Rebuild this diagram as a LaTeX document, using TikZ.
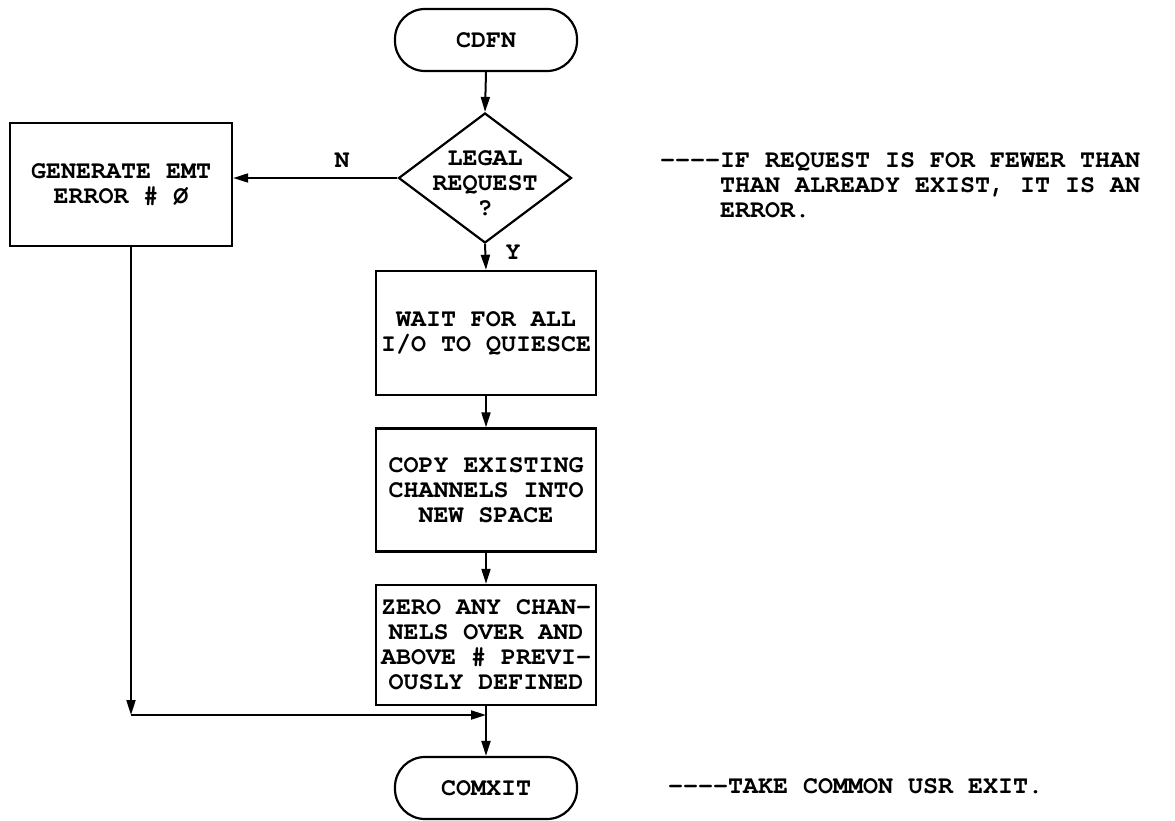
\documentclass[tikz,border=0pt]{standalone}
\usepackage{fontspec}
\setmainfont{texgyrecursor}[Extension=.otf, UprightFont=*-regular, BoldFont=*-bold, Ligatures=TeXOff]
\usetikzlibrary{shapes.geometric,arrows.meta}
\begin{document}
\begin{tikzpicture}[x=1pt,y=-1pt,
  every node/.style={font=\fontsize{25}{25}\selectfont\bfseries},
  flow/.style={line width=2pt,-{Triangle[length=15pt,width=9pt]}},
  procbox/.style={draw,line width=2.4pt,minimum width=220pt,minimum height=123pt,align=center,inner sep=0pt},
  termbox/.style={draw,line width=2.2pt,rounded corners=30pt,minimum width=182pt,minimum height=62pt,inner sep=0pt},
  decision/.style={draw,diamond,line width=2.2pt,minimum width=173pt,minimum height=130pt,inner sep=0pt},
  note/.style={align=left,anchor=west,inner sep=0pt}]
\useasboundingbox (0,0) rectangle (1175,821);

% terminals
\node[termbox] (cdfn) at (486,40) {CDFN};
\node[termbox] (comxit) at (486,788) {COMXIT};

% decision
\node[decision] (legal) at (485,178) {};
\node[align=center,inner sep=0pt] (legaltext) at (485,183) {LEGAL\\REQUEST\\?};

% process boxes
\node[procbox,minimum width=222pt] (gen) at (121,184.5) {GENERATE EMT\\ERROR \# Ø};
\node[procbox,minimum height=124pt] (wait) at (486,333) {WAIT FOR ALL\\I/O TO QUIESCE};
\node[procbox] (copy) at (486,490) {COPY EXISTING\\CHANNELS INTO\\NEW SPACE};
\node[procbox,minimum height=120pt] (zero) at (486,645) {ZERO ANY CHAN-\\NELS OVER AND\\ABOVE \# PREVI-\\OUSLY DEFINED};

% branch labels
\node (nlab) at (342,160) {N};
\node (ylab) at (513,252) {Y};

% comments
\node[note] (note1) at (660,185) {----IF REQUEST IS FOR FEWER THAN\\\phantom{----}THAN ALREADY EXIST, IT IS AN\\\phantom{----}ERROR.};
\node[note] (note2) at (668,786) {----TAKE COMMON USR EXIT.};

% connectors
\coordinate (corner) at (131,715);
\coordinate (join) at (486,715);
\draw[flow] (cdfn.south) -- (legal.north);
\draw[flow] (legal.west) -- (legal.west -| gen.east);
\draw[flow] (legal.south) -- (wait.north);
\draw[flow] (wait.south) -- (copy.north);
\draw[flow] (copy.south) -- (zero.north);
\draw[flow] (zero.south) -- (comxit.north);
\draw[flow] (corner |- gen.south) -- (corner);
\draw[flow] (corner) -- (join);
\end{tikzpicture}
\end{document}
